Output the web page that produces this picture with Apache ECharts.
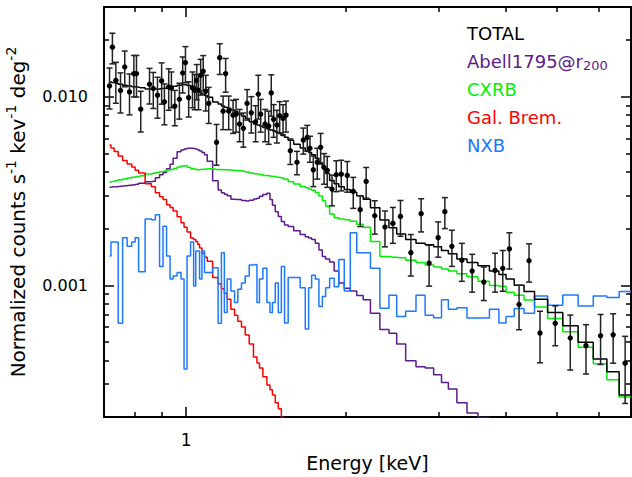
<!DOCTYPE html>
<html>
<head>
<meta charset="utf-8">
<script src="https://cdn.jsdelivr.net/npm/echarts@6/dist/echarts.min.js"></script>
<style>
html, body { margin: 0; padding: 0; background: #fff; }
#chart { width: 632px; height: 477px; }
</style>
</head>
<body>
<div id="chart"></div>
<script>
// energy bins [keV]
const energy = [
	0.717, 0.726, 0.737, 0.752, 0.766, 0.782, 0.797, 0.806, 0.821, 0.853,
	0.867, 0.883, 0.899, 0.910, 0.927, 0.938, 0.952, 0.971, 0.985, 0.997,
	1.011, 1.028, 1.038, 1.047, 1.055, 1.065, 1.077, 1.089, 1.103, 1.141,
	1.157, 1.174, 1.187, 1.203, 1.226, 1.242, 1.261, 1.282, 1.303, 1.327,
	1.352, 1.368, 1.382, 1.409, 1.431, 1.447, 1.462, 1.483, 1.501, 1.523,
	1.543, 1.572, 1.618, 1.663, 1.692, 1.712, 1.737, 1.767, 1.793, 1.820,
	1.845, 1.884, 1.919, 1.961, 2.013, 2.066, 2.129, 2.185, 2.268, 2.371,
	2.454, 2.536, 2.653, 2.774, 2.872, 2.987, 3.075, 3.170, 3.311, 3.462,
	3.641, 3.824, 3.954, 4.069, 4.244, 4.432, 4.648, 4.966, 5.301, 5.675,
	6.046, 6.386, 6.727,
];
// observed counts and 1-sigma errors
const counts = [
	0.01143, 0.01837, 0.01225, 0.01081, 0.01441, 0.01063, 0.01329, 0.01329, 0.00861, 0.01167,
	0.01108, 0.01021, 0.01215, 0.00941, 0.01129, 0.01116, 0.00893, 0.00972, 0.01339, 0.01519,
	0.00992, 0.01116, 0.01085, 0.01225, 0.01085, 0.01302, 0.01367, 0.01072, 0.00923, 0.00574,
	0.01615, 0.00840, 0.01329, 0.00840, 0.00800, 0.00810, 0.00718, 0.00681, 0.00923, 0.00823,
	0.00738, 0.01033, 0.00810, 0.00718, 0.00700, 0.01050, 0.00760, 0.00709, 0.00794, 0.00769,
	0.00800, 0.00518, 0.00450, 0.00590, 0.00610, 0.00534, 0.00410, 0.00450, 0.00540, 0.00422,
	0.00407, 0.00324, 0.00386, 0.00389, 0.00383, 0.00315, 0.00252, 0.00356, 0.00234, 0.00204,
	0.00213, 0.00232, 0.00149, 0.00240, 0.00131, 0.00179, 0.00246, 0.00161, 0.00136, 0.00119,
	0.00104, 0.00120, 0.00123, 0.00156, 0.000791, 0.00135, 0.000558, 0.000628, 0.000525, 0.000478,
	0.000540, 0.000546, 0.000386,
];
const errors = [
	0.0028, 0.0034, 0.0030, 0.0026, 0.0031, 0.0026, 0.0033, 0.0033, 0.0021, 0.0025,
	0.0024, 0.0025, 0.0030, 0.0023, 0.0028, 0.0024, 0.0019, 0.0021, 0.0029, 0.0033,
	0.0021, 0.0024, 0.0023, 0.0026, 0.0023, 0.0028, 0.0029, 0.0023, 0.0020, 0.0014,
	0.0030, 0.0017, 0.0027, 0.0017, 0.0016, 0.0016, 0.0014, 0.0014, 0.0017, 0.0018,
	0.0016, 0.0027, 0.0016, 0.0014, 0.0014, 0.0026, 0.0015, 0.0014, 0.0015, 0.0014,
	0.0015, 0.00080, 0.00064, 0.00093, 0.00096, 0.00084, 0.00076, 0.00084, 0.0010, 0.00078,
	0.00076, 0.00060, 0.00072, 0.00072, 0.00071, 0.00059, 0.00047, 0.00066, 0.00047, 0.00044,
	0.00046, 0.00050, 0.00037, 0.00048, 0.00032, 0.00038, 0.00046, 0.00035, 0.00031, 0.00027,
	0.00021, 0.00028, 0.00030, 0.00034, 0.00021, 0.00031, 0.00017, 0.00015, 0.00017, 0.00014,
	0.00016, 0.00016, 0.00015,
];
// model components
const total = [
	0.01200, 0.01191, 0.01181, 0.01167, 0.01153, 0.01142, 0.01132, 0.01127, 0.01118, 0.01101,
	0.01098, 0.01102, 0.01108, 0.01110, 0.01121, 0.01128, 0.01138, 0.01153, 0.01163, 0.01159,
	0.01149, 0.01135, 0.01128, 0.01112, 0.01075, 0.01056, 0.01037, 0.01018, 0.00996, 0.00940,
	0.00917, 0.00895, 0.00882, 0.00871, 0.00852, 0.00836, 0.00814, 0.00791, 0.00767, 0.00739,
	0.00717, 0.00709, 0.00700, 0.00687, 0.00676, 0.00668, 0.00661, 0.00652, 0.00640, 0.00624,
	0.00610, 0.00589, 0.00560, 0.00536, 0.00518, 0.00507, 0.00493, 0.00472, 0.00447, 0.00419,
	0.00392, 0.00360, 0.00346, 0.00334, 0.00322, 0.00312, 0.00299, 0.00286, 0.00258, 0.00222,
	0.00202, 0.00187, 0.00175, 0.00167, 0.00164, 0.00160, 0.00153, 0.00147, 0.00138, 0.00132,
	0.00127, 0.00119, 0.00114, 0.00108, 0.00100, 0.000926, 0.000843, 0.000717, 0.000610, 0.000498,
	0.000406, 0.000348, 0.000262,
];
const cxrb = [
	0.00353, 0.00356, 0.00359, 0.00363, 0.00367, 0.00371, 0.00375, 0.00378, 0.00381, 0.00390,
	0.00393, 0.00397, 0.00401, 0.00404, 0.00409, 0.00412, 0.00417, 0.00424, 0.00430, 0.00431,
	0.00423, 0.00417, 0.00414, 0.00411, 0.00411, 0.00412, 0.00413, 0.00414, 0.00415, 0.00412,
	0.00412, 0.00411, 0.00410, 0.00409, 0.00408, 0.00407, 0.00406, 0.00403, 0.00399, 0.00395,
	0.00391, 0.00389, 0.00387, 0.00383, 0.00381, 0.00379, 0.00378, 0.00375, 0.00373, 0.00370,
	0.00366, 0.00355, 0.00345, 0.00335, 0.00329, 0.00324, 0.00320, 0.00311, 0.00298, 0.00281,
	0.00263, 0.00239, 0.00228, 0.00225, 0.00223, 0.00219, 0.00211, 0.00203, 0.00171, 0.00142,
	0.00141, 0.00140, 0.00136, 0.00132, 0.00128, 0.00125, 0.00122, 0.00119, 0.00115, 0.00111,
	0.00105, 0.000999, 0.000988, 0.000918, 0.000886, 0.000836, 0.000768, 0.000667, 0.000567, 0.000469,
	0.000383, 0.000315, 0.000255,
];
const abell = [
	0.00331, 0.00333, 0.00334, 0.00336, 0.00338, 0.00340, 0.00342, 0.00344, 0.00348, 0.00354,
	0.00357, 0.00372, 0.00386, 0.00397, 0.00415, 0.00439, 0.00473, 0.00512, 0.00523, 0.00529,
	0.00534, 0.00534, 0.00531, 0.00528, 0.00523, 0.00517, 0.00507, 0.00493, 0.00455, 0.00359,
	0.00321, 0.00310, 0.00304, 0.00299, 0.00286, 0.00285, 0.00285, 0.00282, 0.00280, 0.00283,
	0.00287, 0.00290, 0.00297, 0.00303, 0.00308, 0.00285, 0.00266, 0.00246, 0.00232, 0.00218,
	0.00209, 0.00205, 0.00195, 0.00186, 0.00181, 0.00178, 0.00175, 0.00167, 0.00154, 0.00142,
	0.00138, 0.00133, 0.00119, 0.00103, 0.000966, 0.000932, 0.000883, 0.000839, 0.000711, 0.000582,
	0.000556, 0.000488, 0.000398, 0.000370, 0.000364, 0.000335, 0.000305, 0.000282, 0.000238, 0.000210,
	0.000199, null, null, null, null, null, null, null, null, null,
	null, null, null,
];
const galBrem = [
	0.00556, 0.00536, 0.00513, 0.00486, 0.00460, 0.00441, 0.00425, 0.00408, 0.00394, 0.00346,
	0.00333, 0.00310, 0.00295, 0.00285, 0.00268, 0.00259, 0.00248, 0.00231, 0.00215, 0.00203,
	0.00192, 0.00178, 0.00175, 0.00171, 0.00165, 0.00158, 0.00148, 0.00141, 0.00134, 0.00110,
	0.00102, 0.000958, 0.000907, 0.000843, 0.000747, 0.000694, 0.000645, 0.000600, 0.000544, 0.000488,
	0.000417, 0.000387, 0.000364, 0.000327, 0.000296, 0.000279, 0.000262, 0.000238, 0.000221, 0.000199,
	null, null, null, null, null, null, null, null, null, null,
	null, null, null, null, null, null, null, null, null, null,
	null, null, null, null, null, null, null, null, null, null,
	null, null, null, null, null, null, null, null, null, null,
	null, null, null,
];
const nxb = [
	0.00143, 0.00170, 0.00170, 0.000628, 0.00179, 0.00161, 0.00170, 0.00179, 0.00118, 0.00225,
	0.00223, 0.00237, 0.00126, 0.00206, 0.00143, 0.00108, 0.00112, 0.00117, 0.00108, 0.000360,
	0.00143, 0.00170, 0.000992, 0.00152, 0.00152, 0.00108, 0.00152, 0.00117, 0.00117, 0.00124,
	0.000628, 0.00149, 0.000717, 0.00108, 0.000933, 0.000810, 0.000953, 0.00103, 0.00112, 0.00128,
	0.00129, 0.000810, 0.00108, 0.00123, 0.000810, 0.000717, 0.000810, 0.00103, 0.000717, 0.00126,
	0.000630, 0.00110, 0.00110, 0.000972, 0.000586, 0.000972, 0.00113, 0.00108, 0.000772, 0.000872,
	0.000972, 0.00109, 0.000984, 0.00137, 0.000933, 0.00190, 0.00149, 0.00149, 0.00123, 0.000756,
	0.000886, 0.000684, 0.000729, 0.000886, 0.000694, 0.000673, 0.000838, 0.000747, 0.000760, 0.000670,
	0.000670, 0.000747, 0.000630, 0.000682, 0.000753, 0.000711, 0.000878, 0.000784, 0.000889, 0.000777,
	0.000878, 0.000861, 0.000926,
];

// axis ranges and ticks
const xMin = 0.7, xMax = 6.9;
const yMin = 0.0002, yMax = 0.03;
const xMajor = [1];
const xMinor = [0.8, 0.9, 2, 3, 4, 5, 6];
const yMajor = [0.001, 0.01];
const yMinor = [0.0003, 0.0004, 0.0005, 0.0006, 0.0007, 0.0008, 0.0009,
	0.002, 0.003, 0.004, 0.005, 0.006, 0.007, 0.008, 0.009, 0.02];

const legendNames = ["TOTAL", "Abell1795@r", "CXRB", "Gal. Brem.", "NXB"];
const colors = ["#000000", "#5c1a8c", "#00f000", "#ff0000", "#1c78ff"];

const FONT = "DejaVu Sans";

const chart = echarts.init(document.getElementById("chart"), null, { renderer: "svg" });

const gridBox = { left: 104, right: 1, top: 7, bottom: 60, outerBoundsMode: "none" };

function mkX(gridIndex, position, ticks, len, withLine, labels) {
	return {
		type: "log",
		gridIndex,
		position,
		min: xMin,
		max: xMax,
		axisLine: { show: withLine, lineStyle: { color: "#000", width: 2 } },
		axisTick: { show: true, inside: true, length: len, customValues: ticks, lineStyle: { color: "#000", width: 1.5 } },
		axisLabel: labels
			? { show: true, customValues: labels, margin: 14, color: "#000", fontSize: 17, fontFamily: FONT, formatter: (v) => String(Math.round(v)) }
			: { show: false },
		splitLine: { show: false },
		minorTick: { show: false },
	};
}

function mkY(gridIndex, position, ticks, len, withLine, labels) {
	return {
		type: "log",
		gridIndex,
		position,
		min: yMin,
		max: yMax,
		axisLine: { show: withLine, lineStyle: { color: "#000", width: 2 } },
		axisTick: { show: true, inside: true, length: len, customValues: ticks, lineStyle: { color: "#000", width: 1.5 } },
		axisLabel: labels
			? { show: true, customValues: labels, margin: 16, color: "#000", fontSize: 16, fontFamily: FONT, formatter: (v) => v.toFixed(3) }
			: { show: false },
		splitLine: { show: false },
		minorTick: { show: false },
	};
}

const xAxes = [
	mkX(0, "bottom", xMajor, 10, true, xMajor),
	mkX(0, "top", xMajor, 10, true, null),
	mkX(1, "bottom", xMinor, 5, false, null),
	mkX(1, "top", xMinor, 5, false, null),
];
Object.assign(xAxes[0], {
	name: "Energy [keV]",
	nameLocation: "middle",
	nameGap: 36,
	nameTextStyle: { color: "#000", fontSize: 19, fontFamily: FONT },
});

const yAxes = [
	mkY(0, "left", yMajor, 10, true, yMajor),
	mkY(0, "right", yMajor, 10, true, null),
	mkY(1, "left", yMinor, 5, false, null),
	mkY(1, "right", yMinor, 5, false, null),
];
Object.assign(yAxes[0], {
	name: "{t|Normalized counts s}{s|-1}{t| kev}{s|-1}{t| deg}{s|-2}",
	nameLocation: "middle",
	nameRotate: 90,
	nameGap: 73,
	nameTextStyle: {
		rich: {
			t: { color: "#000", fontSize: 20, fontFamily: FONT, lineHeight: 27 },
			s: { color: "#000", fontSize: 14, fontFamily: FONT, lineHeight: 15, verticalAlign: "top" },
		},
	},
});

// histogram-like model curve, last bin held to the right frame
function stepSeries(values, color, z) {
	const data = energy.map((e, i) => [e, values[i]]);
	data.push([xMax, values[values.length - 1]]);
	return {
		type: "line",
		xAxisIndex: 0,
		yAxisIndex: 0,
		step: "middle",
		data,
		symbol: "none",
		showSymbol: false,
		connectNulls: false,
		clip: true,
		silent: true,
		z,
		lineStyle: { color, width: 1.5 },
	};
}

const series = [
	stepSeries(abell, colors[1], 2),
	stepSeries(cxrb, colors[2], 2),
	stepSeries(galBrem, colors[3], 2),
	stepSeries(nxb, colors[4], 2),
	stepSeries(total, colors[0], 3),
	{
		type: "custom",
		xAxisIndex: 0,
		yAxisIndex: 0,
		clip: true,
		z: 4,
		silent: true,
		data: energy.map((e, i) => [e, counts[i], errors[i]]),
		renderItem(params, api) {
			const e = api.value(0), v = api.value(1), s = api.value(2);
			const c = api.coord([e, v]);
			const hi = api.coord([e, v + s]);
			const lo = api.coord([e, Math.max(v - s, 1e-6)]);
			const st = { stroke: "#222", lineWidth: 1.5 };
			return {
				type: "group",
				children: [
					{ type: "line", shape: { x1: c[0], y1: hi[1], x2: c[0], y2: lo[1] }, style: st },
					{ type: "line", shape: { x1: c[0] - 3, y1: hi[1], x2: c[0] + 3, y2: hi[1] }, style: st },
					{ type: "line", shape: { x1: c[0] - 3, y1: lo[1], x2: c[0] + 3, y2: lo[1] }, style: st },
					{ type: "circle", shape: { cx: c[0], cy: c[1], r: 2.7 }, style: { fill: "#000" } },
				],
			};
		},
	},
];

// legend as plain coloured text
const legend = legendNames.map((name, i) => ({
	type: "text",
	x: 467,
	y: 33 + i * 28,
	z: 10,
	style: {
		text: i === 1 ? "{a|" + name + "}{b|200}" : name,
		fill: colors[i],
		fontSize: 18,
		fontFamily: FONT,
		verticalAlign: "middle",
		rich: {
			a: { fill: colors[i], fontSize: 18, fontFamily: FONT, lineHeight: 22 },
			b: { fill: colors[i], fontSize: 13, fontFamily: FONT, lineHeight: 13, verticalAlign: "bottom" },
		},
	},
}));

chart.setOption({
	animation: false,
	backgroundColor: "#fff",
	grid: [gridBox, Object.assign({}, gridBox)],
	xAxis: xAxes,
	yAxis: yAxes,
	series,
	graphic: legend,
});
</script>
</body>
</html>
